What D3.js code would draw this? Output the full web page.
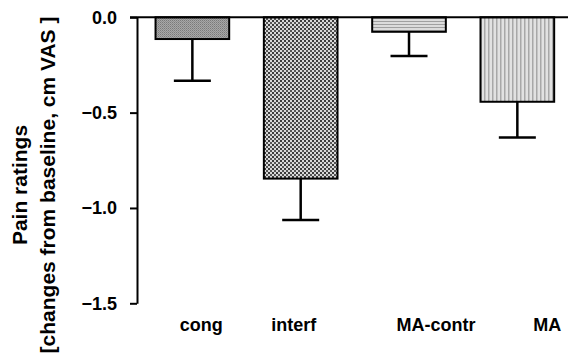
<!DOCTYPE html>
<html>
<head>
<meta charset="utf-8">
<script src="https://cdn.jsdelivr.net/npm/d3@7"></script>
<style>
  html, body { margin: 0; padding: 0; background: #fff; }
  svg { display: block; font-family: "Liberation Sans", Arial, sans-serif; font-weight: bold; }
</style>
</head>
<body>
<div id="chart"></div>
<script>
// values
const categories = ['cong', 'interf', 'MA-contr', 'MA'];
const meanValues = [-0.114, -0.846, -0.076, -0.443];
const errValues = [0.219, 0.217, 0.127, 0.188];
const yTickValues = [0, -0.5, -1.0, -1.5];
const patternIds = ['pat-cong', 'pat-interf', 'pat-macontr', 'pat-ma'];
// label nudges so the category names sit where they do in the figure
const labelShift = [9, -7, 27, 30];

const width = 568, height = 360;
const svg = d3.select('#chart').append('svg')
  .attr('width', width)
  .attr('height', height);

// fill patterns for the four bars
const defs = svg.append('defs');

let p = defs.append('pattern').attr('id', 'pat-cong')
  .attr('patternUnits', 'userSpaceOnUse').attr('width', 2).attr('height', 2);
p.append('rect').attr('width', 2).attr('height', 2).attr('fill', '#a8a8a8');
p.append('rect').attr('width', 1).attr('height', 1).attr('fill', '#7a7a7a');
p.append('rect').attr('x', 1).attr('y', 1).attr('width', 1).attr('height', 1).attr('fill', '#8e8e8e');

p = defs.append('pattern').attr('id', 'pat-interf')
  .attr('patternUnits', 'userSpaceOnUse').attr('width', 4).attr('height', 4);
p.append('rect').attr('width', 4).attr('height', 4).attr('fill', '#d8d8d8');
p.append('rect').attr('width', 2).attr('height', 2).attr('fill', '#3a3a3a');
p.append('rect').attr('x', 2).attr('y', 2).attr('width', 2).attr('height', 2).attr('fill', '#555');

p = defs.append('pattern').attr('id', 'pat-macontr')
  .attr('patternUnits', 'userSpaceOnUse').attr('width', 4).attr('height', 3);
p.append('rect').attr('width', 4).attr('height', 3).attr('fill', '#dcdcdc');
p.append('rect').attr('width', 4).attr('height', 1).attr('fill', '#a0a0a0');

p = defs.append('pattern').attr('id', 'pat-ma')
  .attr('patternUnits', 'userSpaceOnUse').attr('width', 4).attr('height', 4);
p.append('rect').attr('width', 4).attr('height', 4).attr('fill', '#e2e2e2');
p.append('rect').attr('width', 1.5).attr('height', 4).attr('fill', '#a8a8a8');

const xScale = d3.scaleBand()
  .domain(categories)
  .range([138.2, 571.5])
  .paddingInner(0.32)
  .paddingOuter(0.16);

const yScale = d3.scaleLinear()
  .domain([0, -1.5])
  .range([17.3, 303.3]);

const axisX = 137;

// y axis
const yAxis = svg.append('g')
  .attr('transform', `translate(${axisX},0)`)
  .call(d3.axisLeft(yScale).tickValues(yTickValues).tickFormat(d3.format('.1f')).tickSize(7).tickSizeOuter(0));
yAxis.select('.domain').attr('stroke', '#000').attr('stroke-width', 2);
yAxis.selectAll('.tick line').attr('stroke', '#000').attr('stroke-width', 2);
yAxis.selectAll('.tick text')
  .attr('x', -20)
  .attr('font-size', 18)
  .attr('font-weight', 'bold')
  .attr('font-family', '"Liberation Sans", Arial, sans-serif')
  .attr('fill', '#000');

// bars
const bars = svg.append('g').attr('class', 'bars');
bars.selectAll('rect')
  .data(categories)
  .enter()
  .append('rect')
  .attr('x', d => xScale(d))
  .attr('y', yScale(0))
  .attr('width', xScale.bandwidth())
  .attr('height', (d, i) => yScale(meanValues[i]) - yScale(0))
  .attr('fill', (d, i) => `url(#${patternIds[i]})`)
  .attr('stroke', '#000')
  .attr('stroke-width', 2);

// error bars (downward only)
const capHalf = 18.5;
const err = svg.append('g').attr('class', 'errors')
  .attr('stroke', '#000').attr('stroke-width', 2.5);
categories.forEach((c, i) => {
  const cx = xScale(c) + xScale.bandwidth() / 2;
  const low = meanValues[i] - errValues[i];
  err.append('line')
    .attr('x1', cx).attr('x2', cx)
    .attr('y1', yScale(meanValues[i])).attr('y2', yScale(low));
  err.append('line')
    .attr('x1', cx - capHalf).attr('x2', cx + capHalf)
    .attr('y1', yScale(low)).attr('y2', yScale(low));
});

// zero line across the top
svg.append('line')
  .attr('x1', axisX - 7).attr('x2', width)
  .attr('y1', yScale(0)).attr('y2', yScale(0))
  .attr('stroke', '#000').attr('stroke-width', 2);

// category labels
svg.append('g').selectAll('text')
  .data(categories)
  .enter()
  .append('text')
  .attr('x', (d, i) => xScale(d) + xScale.bandwidth() / 2 + labelShift[i])
  .attr('y', 331)
  .attr('text-anchor', 'middle')
  .attr('font-size', 18)
  .text(d => d);

// y axis title, two lines
const titleY = 185;
svg.append('text')
  .attr('transform', `translate(27,${titleY}) rotate(-90)`)
  .attr('text-anchor', 'middle')
  .attr('font-size', 21)
  .text('Pain ratings');
svg.append('text')
  .attr('transform', `translate(55,${titleY}) rotate(-90)`)
  .attr('text-anchor', 'middle')
  .attr('font-size', 21)
  .text('[changes from baseline, cm VAS ]');
</script>
</body>
</html>
